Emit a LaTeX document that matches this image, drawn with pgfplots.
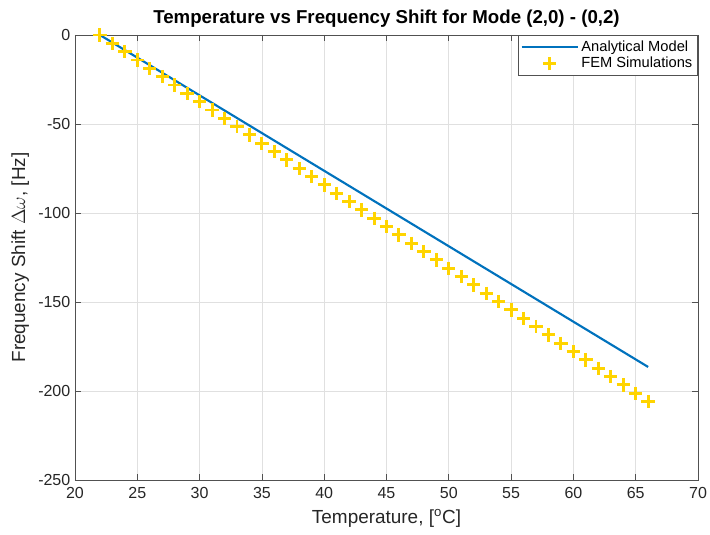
\documentclass[border=0pt]{standalone}
\usepackage{fontspec}
\setmainfont{Liberation Sans}
\usepackage{pgfplots}
\pgfplotsset{compat=1.18}
\definecolor{mblue}{RGB}{0,114,189}
\definecolor{myellow}{RGB}{255,212,0}
\definecolor{axgray}{RGB}{38,38,38}
\begin{document}
\begin{tikzpicture}
\begin{axis}[
  scale only axis,
  width=467.25pt, height=333.75pt,
  xmin=20, xmax=70, ymin=-250, ymax=0,
  xtick={20,25,...,70}, ytick={-250,-200,...,0},
  grid=major,
  major grid style={line width=0.6pt, draw=black!12},
  tick align=inside,
  tick pos=both,
  major tick length=4.5pt,
  axis line style={draw=axgray!80, line width=0.6pt},
  every tick/.style={draw=axgray!80, line width=0.6pt},
  tick label style={font=\fontsize{12}{14}\selectfont, text=axgray},
  /pgf/number format/assume math mode=true,
  xticklabel style={yshift=-2pt},
  title={\textbf{Temperature vs Frequency Shift for Mode (2,0) - (0,2)}},
  title style={font=\fontsize{14}{16}\selectfont, yshift=-4pt},
  xlabel={Temperature, [$^{\mathrm{o}}$C]},
  ylabel={Frequency Shift $\Delta\omega$, [Hz]},
  label style={font=\fontsize{14.2}{16}\selectfont, text=axgray},
  xlabel style={yshift=-1pt},
  ylabel style={yshift=0pt},
  legend cell align=left,
  legend style={at={(rel axis cs:1,1)}, anchor=north east,
    draw=axgray!80, line width=0.6pt, font=\fontsize{11}{13}\selectfont,
    inner sep=2pt, row sep=-1pt},
  legend image code/.code={},
]
\addplot[mblue, line width=1.6pt, forget plot] coordinates {(22,0) (66,-186.5)};
\addplot[only marks, mark=+, mark size=5pt, myellow, line width=2.2pt, forget plot] coordinates {
(22,0) (23,-4.68) (24,-9.36) (25,-14.04) (26,-18.72) (27,-23.40) (28,-28.08) (29,-32.76)
(30,-37.44) (31,-42.12) (32,-46.80) (33,-51.48) (34,-56.16) (35,-60.84) (36,-65.52)
(37,-70.20) (38,-74.88) (39,-79.56) (40,-84.24) (41,-88.92) (42,-93.60) (43,-98.28)
(44,-102.96) (45,-107.64) (46,-112.32) (47,-117.00) (48,-121.68) (49,-126.36) (50,-131.04)
(51,-135.72) (52,-140.40) (53,-145.08) (54,-149.76) (55,-154.44) (56,-159.12) (57,-163.80)
(58,-168.48) (59,-173.16) (60,-177.84) (61,-182.52) (62,-187.20) (63,-191.88) (64,-196.56)
(65,-201.24) (66,-205.92)};
\addlegendimage{legend image code/.code={\draw[mblue, line width=1.6pt] (0pt,0pt) -- (42pt,0pt);}}
\addlegendentry{Analytical Model}
\addlegendimage{legend image code/.code={\draw[myellow, line width=2.2pt] (21pt,-5pt) -- (21pt,5pt) (16pt,0pt) -- (26pt,0pt);}}
\addlegendentry{FEM Simulations}
\end{axis}
\pgfresetboundingbox
\useasboundingbox (-56.25pt,-41.25pt) rectangle (476.25pt,360pt);
\end{tikzpicture}
\end{document}
